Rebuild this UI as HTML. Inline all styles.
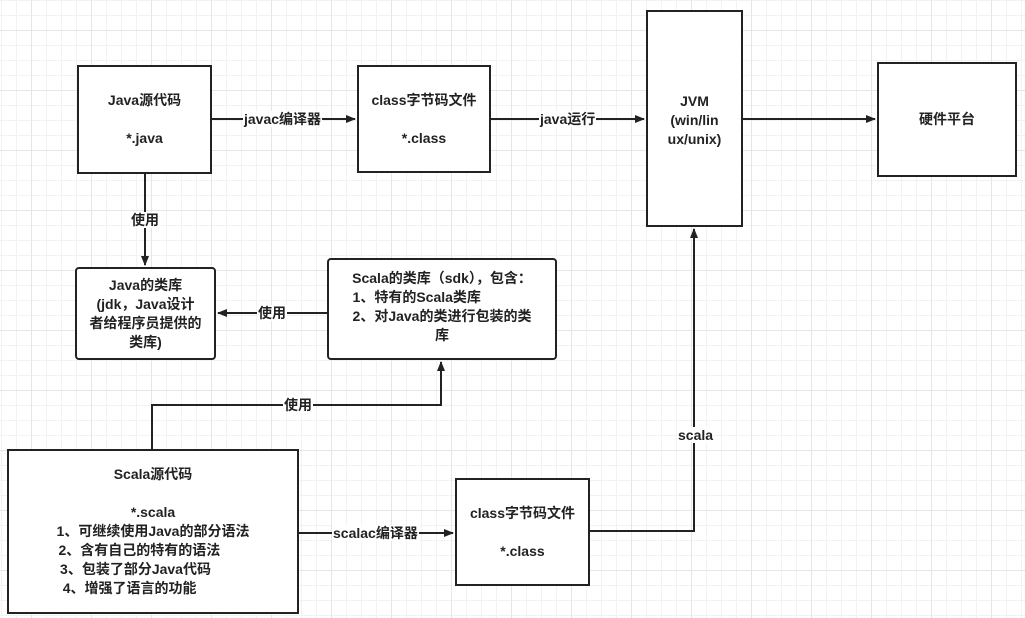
<!DOCTYPE html>
<html><head><meta charset="utf-8"><style>
body{margin:0;width:1025px;height:618px;overflow:hidden;background:#fff;
background-image:linear-gradient(#e6e6e6 1px,transparent 1px),linear-gradient(90deg,#e6e6e6 1px,transparent 1px),linear-gradient(#f2f2f2 1px,transparent 1px),linear-gradient(90deg,#f2f2f2 1px,transparent 1px);
background-size:60px 60px,60px 60px,15px 15px,15px 15px;background-position:0 30px,31px 0,0 0,1px 0;
font-family:"Liberation Sans","Noto Sans CJK SC",sans-serif;font-weight:bold;font-size:14px;color:#222}
.b{position:absolute;border:2px solid #222;background:#fff;box-sizing:border-box;display:flex;align-items:center;justify-content:center;text-align:center;line-height:19px}
.r{border-radius:4px}
.l{position:absolute;background:#fff;padding:0 1px;line-height:16px}
svg{position:absolute;left:0;top:0}
</style></head><body>
<svg width="1025" height="618">
<defs><marker id="a" markerWidth="10" markerHeight="8" refX="9" refY="4" orient="auto" markerUnits="userSpaceOnUse"><path d="M0,0L10,4L0,8z" fill="#222"/></marker></defs>
<g stroke="#222" stroke-width="2" fill="none" marker-end="url(#a)">
<path d="M212,119H355"/><path d="M491,119H644"/><path d="M743,119H875"/>
<path d="M145,174V265"/><path d="M327,313H218"/>
<path d="M152,449V405H441V362"/>
<path d="M299,533H453"/><path d="M590,531H694V229"/>
</g></svg>
<div class="b" style="left:77px;top:65px;width:135px;height:109px">Java源代码<br><br>*.java</div>
<div class="b" style="left:357px;top:65px;width:134px;height:108px">class字节码文件<br><br>*.class</div>
<div class="b" style="left:646px;top:10px;width:97px;height:217px;align-items:flex-start;padding-top:80px">JVM<br>(win/lin<br>ux/unix)</div>
<div class="b" style="left:877px;top:62px;width:140px;height:115px">硬件平台</div>
<div class="b r" style="left:75px;top:267px;width:141px;height:93px">Java的类库<br>(jdk，Java设计<br>者给程序员提供的<br>类库)</div>
<div class="b r" style="left:327px;top:258px;width:230px;height:102px;align-items:flex-start;padding-top:9px">Scala的类库（sdk），包含：<br>&nbsp;1、特有的Scala类库&nbsp;&nbsp;&nbsp;&nbsp;&nbsp;&nbsp;&nbsp;&nbsp;&nbsp;&nbsp;&nbsp;&nbsp;&nbsp;&nbsp;<br>2、对Java的类进行包装的类<br>库</div>
<div class="b" style="left:7px;top:449px;width:292px;height:165px">Scala源代码<br><br>*.scala<br>1、可继续使用Java的部分语法<br>2、含有自己的特有的语法&nbsp;&nbsp;&nbsp;&nbsp;&nbsp;&nbsp;&nbsp;<br>3、包装了部分Java代码&nbsp;&nbsp;&nbsp;&nbsp;&nbsp;&nbsp;&nbsp;&nbsp;&nbsp;<br>4、增强了语言的功能&nbsp;&nbsp;&nbsp;&nbsp;&nbsp;&nbsp;&nbsp;&nbsp;&nbsp;&nbsp;&nbsp;&nbsp;</div>
<div class="b" style="left:455px;top:478px;width:135px;height:108px">class字节码文件<br><br>*.class</div>
<div class="l" style="left:243px;top:111px">javac编译器</div>
<div class="l" style="left:539px;top:111px">java运行</div>
<div class="l" style="left:130px;top:212px">使用</div>
<div class="l" style="left:257px;top:305px">使用</div>
<div class="l" style="left:283px;top:397px">使用</div>
<div class="l" style="left:332px;top:525px">scalac编译器</div>
<div class="l" style="left:677px;top:427px">scala</div>
</body></html>
